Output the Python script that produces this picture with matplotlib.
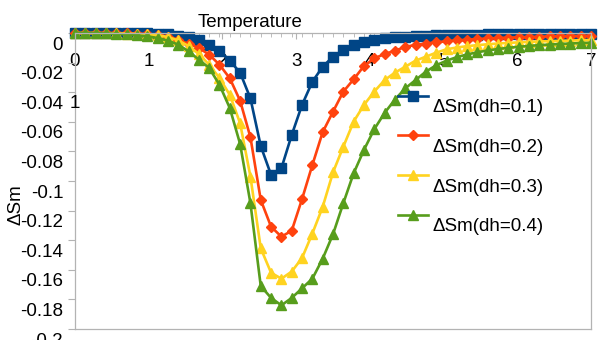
import numpy as np
import matplotlib
matplotlib.use("Agg")
import matplotlib.pyplot as plt
from matplotlib.transforms import ScaledTranslation

# ========================================= Data ====================================================== #

temps = [0.00, 0.14, 0.28, 0.42, 0.56, 0.70, 0.84, 0.98, 1.12, 1.26,
	1.40, 1.54, 1.68, 1.82, 1.96, 2.10, 2.24, 2.38, 2.52, 2.66,
	2.80, 2.94, 3.08, 3.22, 3.36, 3.50, 3.64, 3.78, 3.92, 4.06,
	4.20, 4.34, 4.48, 4.62, 4.76, 4.90, 5.04, 5.18, 5.32, 5.46,
	5.60, 5.74, 5.88, 6.02, 6.16, 6.30, 6.44, 6.58, 6.72, 6.86, 7.00]

dsm_01 = [0.0, 0.0, 0.0, 0.0, -0.0001, -0.0001, -0.0002, -0.0003, -0.0005, -0.0010,
	-0.0018, -0.0030, -0.0050, -0.0080, -0.0120, -0.0187, -0.0268, -0.0442, -0.0764, -0.0959,
	-0.0914, -0.0689, -0.0486, -0.0329, -0.0228, -0.0160, -0.0115, -0.0081, -0.0059, -0.0045,
	-0.0036, -0.0030, -0.0025, -0.0021, -0.0018, -0.0016, -0.0014, -0.0013, -0.0012, -0.0011,
	-0.0010, -0.0009, -0.0008, -0.0008, -0.0007, -0.0007, -0.0006, -0.0006, -0.0005, -0.0005, -0.0005]

dsm_02 = [0.0, 0.0, 0.0, 0.0, -0.0001, -0.0002, -0.0004, -0.0007, -0.0011, -0.0025,
	-0.0045, -0.0074, -0.0101, -0.0146, -0.0214, -0.0306, -0.0458, -0.0705, -0.1128, -0.1309,
	-0.1376, -0.1336, -0.1122, -0.0892, -0.0670, -0.0532, -0.0396, -0.0313, -0.0223, -0.0171,
	-0.0142, -0.0120, -0.0093, -0.0081, -0.0071, -0.0063, -0.0056, -0.0050, -0.0045, -0.0041,
	-0.0037, -0.0034, -0.0031, -0.0029, -0.0027, -0.0025, -0.0023, -0.0022, -0.0021, -0.0020, -0.0019]

dsm_03 = [0.0, 0.0, 0.0, -0.0001, -0.0002, -0.0004, -0.0007, -0.0010, -0.0015, -0.0027,
	-0.0050, -0.0088, -0.0142, -0.0214, -0.0304, -0.0418, -0.0610, -0.0970, -0.1455, -0.1620,
	-0.1660, -0.1612, -0.1520, -0.1355, -0.1175, -0.0942, -0.0768, -0.0599, -0.0486, -0.0396,
	-0.0318, -0.0268, -0.0228, -0.0187, -0.0160, -0.0133, -0.0110, -0.0098, -0.0089, -0.0082,
	-0.0076, -0.0071, -0.0067, -0.0063, -0.0060, -0.0057, -0.0055, -0.0053, -0.0051, -0.0049, -0.0048]

dsm_04 = [0.0, 0.0, -0.0001, -0.0003, -0.0006, -0.0010, -0.0016, -0.0022, -0.0034, -0.0052,
	-0.0078, -0.0124, -0.0180, -0.0236, -0.0350, -0.0507, -0.0750, -0.1150, -0.1710, -0.1790,
	-0.1840, -0.1790, -0.1725, -0.1660, -0.1525, -0.1360, -0.1150, -0.0948, -0.0790, -0.0650,
	-0.0540, -0.0450, -0.0374, -0.0318, -0.0261, -0.0218, -0.0187, -0.0163, -0.0145, -0.0130,
	-0.0118, -0.0108, -0.0100, -0.0093, -0.0087, -0.0082, -0.0078, -0.0074, -0.0071, -0.0068, -0.0066]

labels = ["ΔSm(dh=0.1)", "ΔSm(dh=0.2)", "ΔSm(dh=0.3)", "ΔSm(dh=0.4)"]
x_ticks = [0, 1, 2, 3, 4, 5, 6, 7]
y_ticks = [0, -0.02, -0.04, -0.06, -0.08, -0.1, -0.12, -0.14, -0.16, -0.18, -0.2]
y_tick_labels = ["0", "-0.02", "-0.04", "-0.06", "-0.08", "-0.1", "-0.12", "-0.14", "-0.16", "-0.18", "-0.2"]

# ========================================= Style ===================================================== #

colors = ["#004586", "#ff420e", "#ffd320", "#579d1c"]
markers = ["s", "D", "^", "^"]
msizes = [7.0, 5.3, 7.8, 7.8]
grey = "#b3b3b3"
FS = 13.5

plt.rcParams["font.family"] = ["Liberation Sans", "DejaVu Sans"]
plt.rcParams["axes.unicode_minus"] = False

# ========================================= Plot ====================================================== #

fig = plt.figure(figsize=(6.03, 3.40), dpi=100)
ax = fig.add_axes([75/603, 1 - 329/340, 516/603, 296/340])

series = [dsm_01, dsm_02, dsm_03, dsm_04]
for i in range(len(series)):
	ax.plot(temps, series[i], color=colors[i], marker=markers[i], markersize=msizes[i],
		linewidth=1.9, label=labels[i], clip_on=False)

ax.set_xlim(0, 7)
ax.set_ylim(-0.2, 0)

for s in ax.spines.values():
	s.set_color(grey)
	s.set_linewidth(0.9)

# x axis sits on y=0 (top), labels drawn just under it
ax.set_xticks(x_ticks)
ax.set_xticklabels([str(t) for t in x_ticks], fontsize=FS)
ax.set_xticks(temps, minor=True)
ax.tick_params(axis="x", which="both", top=True, bottom=False, labeltop=True, labelbottom=False,
	direction="in", color=grey, pad=-27)
ax.tick_params(axis="x", which="major", length=4)
ax.tick_params(axis="x", which="minor", length=3)

# y labels sit a bit below their ticks, like the original
ax.set_yticks(y_ticks)
ax.set_yticklabels(y_tick_labels, fontsize=FS)
ax.tick_params(axis="y", which="both", left=True, right=False, direction="out", length=5,
	color=grey, pad=3.5)
shift = ScaledTranslation(0, -0.10, fig.dpi_scale_trans)
for lab in ax.get_yticklabels():
	lab.set_transform(lab.get_transform() + shift)

ax.xaxis.set_label_position("top")
ax.set_xlabel("Temperature", fontsize=FS)
ax.xaxis.set_label_coords(0.339, 1.037)
ax.xaxis.label.set_va("center")

ax.set_ylabel("ΔSm", fontsize=FS)
ax.yaxis.set_label_coords(-0.114, 0.419)
ax.yaxis.label.set_va("center")

# stray label left over near the axis
ax.text(0, -0.0475, "1", fontsize=FS, ha="center", va="center")

leg = ax.legend(loc="upper left", bbox_to_anchor=(0.626, 0.81), frameon=False, fontsize=FS,
	numpoints=1, handlelength=1.6, handletextpad=0.25, labelspacing=1.2,
	borderpad=0, borderaxespad=0)
for t in leg.get_texts():
	t.set_transform(t.get_transform() + shift)

fig.savefig("out.png", dpi=100)
